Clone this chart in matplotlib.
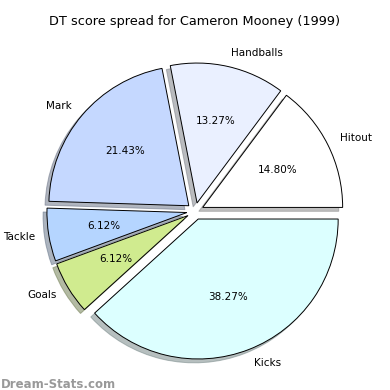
import matplotlib
matplotlib.use("Agg")
import matplotlib.pyplot as plt

labels = ["Hitout", "Handballs", "Mark", "Tackle", "Goals", "Kicks"]
values = [14.80, 13.27, 21.43, 6.12, 6.12, 38.27]
colors = ["#ffffff", "#eaf0ff", "#c5d8ff", "#b5d5ff", "#d0eb8f", "#dcffff"]
explode = [0.06] * len(values)

fig = plt.figure(figsize=(3.9, 3.9), dpi=100)
ax = fig.add_axes([0.034, -0.008, 0.933, 0.933])

wedges, texts, autotexts = ax.pie(values, labels=labels, colors=colors, explode=explode,
                                  autopct="%.2f%%", startangle=0, counterclock=True,
                                  shadow={"ox": -0.02, "oy": -0.02, "shade": 0.5},
                                  wedgeprops={"edgecolor": "black", "linewidth": 0.7},
                                  textprops={"fontsize": 7.5}, labeldistance=1.1)
ax.set_xlim(-1.3, 1.3)
ax.set_ylim(-1.3, 1.3)
ax.set_aspect("equal")
ax.axis("off")

fig.text(0.5, 0.935, "DT score spread for Cameron Mooney (1999)", ha="center", fontsize=9.3)
fig.text(0.003, 0.005, "Dream-Stats.com", color="#999999", fontsize=8.5, fontweight="bold")

fig.savefig("out.png", dpi=100)
